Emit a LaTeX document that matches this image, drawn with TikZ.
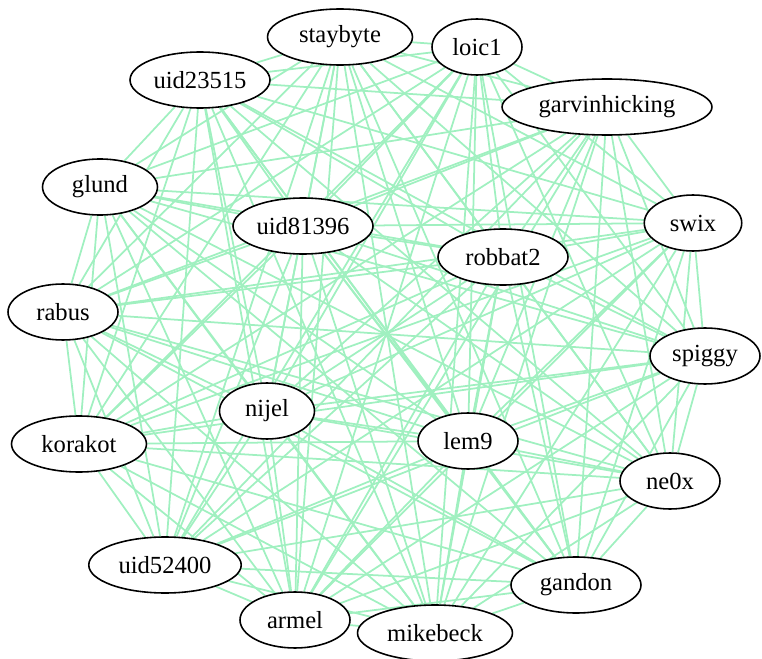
\documentclass[tikz,border=0pt]{standalone}
\usepackage{fontspec}
\setmainfont{Liberation Serif}
\usetikzlibrary{shapes.geometric,backgrounds}
\definecolor{edgegreen}{RGB}{160,240,192}

\begin{document}
\begin{tikzpicture}[x=0.02cm, y=-0.02cm,
    person/.style={ellipse, draw=black, fill=white, line width=0.9pt,
      inner sep=0pt, minimum height=1.12cm,
      font=\fontsize{14}{16}\selectfont},
    link/.style={draw=edgegreen, line width=1pt}]
  \useasboundingbox (0,0) rectangle (762,659);
  % Members of the group, placed roughly on a ring.
  \node[person, minimum width=2.9cm]  (staybyte)      at (340,37)  {staybyte};
  \node[person, minimum width=1.8cm]  (loic1)         at (477,47)  {loic1};
  \node[person, minimum width=2.8cm]  (uid23515)      at (200,80)  {uid23515};
  \node[person, minimum width=4.2cm]  (garvinhicking) at (607,107) {garvinhicking};
  \node[person, minimum width=2.3cm]  (glund)         at (100,187) {glund};
  \node[person, minimum width=2.8cm]  (uid81396)      at (303,226) {uid81396};
  \node[person, minimum width=1.95cm] (swix)          at (693,223) {swix};
  \node[person, minimum width=2.6cm]  (robbat2)       at (503,257) {robbat2};
  \node[person, minimum width=2.2cm]  (rabus)         at (63,312)  {rabus};
  \node[person, minimum width=2.2cm]  (spiggy)        at (705,356) {spiggy};
  \node[person, minimum width=1.9cm]  (nijel)         at (267,411) {nijel};
  \node[person, minimum width=2.7cm]  (korakot)       at (79,444)  {korakot};
  \node[person, minimum width=2.0cm]  (lem9)          at (468,441) {lem9};
  \node[person, minimum width=2.0cm]  (ne0x)          at (670,481) {ne0x};
  \node[person, minimum width=3.05cm] (uid52400)      at (165,565) {uid52400};
  \node[person, minimum width=2.6cm]  (gandon)        at (576,585) {gandon};
  \node[person, minimum width=2.2cm]  (armel)         at (295,620) {armel};
  \node[person, minimum width=3.1cm]  (mikebeck)      at (435,633) {mikebeck};
  % Every member is linked to every other one (behind the nodes).
  \begin{scope}[on background layer]
    \foreach \a [count=\i] in {staybyte,loic1,uid23515,garvinhicking,glund,
        uid81396,swix,robbat2,rabus,spiggy,nijel,korakot,lem9,ne0x,
        uid52400,gandon,armel,mikebeck}{
      \foreach \b [count=\j] in {staybyte,loic1,uid23515,garvinhicking,glund,
          uid81396,swix,robbat2,rabus,spiggy,nijel,korakot,lem9,ne0x,
          uid52400,gandon,armel,mikebeck}{
        \ifnum\j>\i
          \draw[link] (\a) -- (\b);
        \fi
      }
    }
  \end{scope}
\end{tikzpicture}
\end{document}
